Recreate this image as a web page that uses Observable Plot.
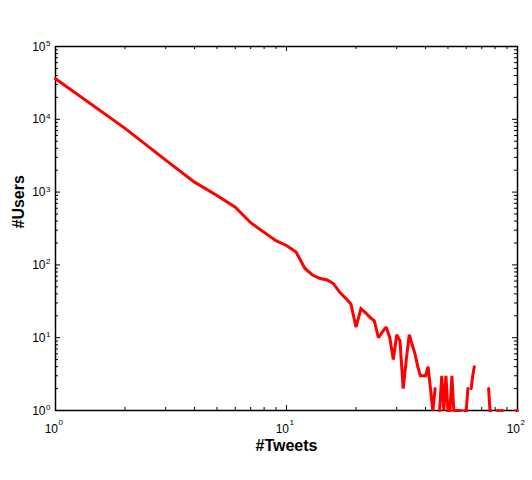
<!DOCTYPE html>
<html>
<head>
<meta charset="utf-8">
<script src="https://cdn.jsdelivr.net/npm/d3@7"></script>
<script src="https://cdn.jsdelivr.net/npm/@observablehq/plot@0.6"></script>
<style>
  html, body { margin: 0; padding: 0; background: #fff; }
</style>
</head>
<body>
<div id="chart"></div>
<script>
// #Users for #Tweets = 1..100 (0 = no users, drawn as a gap)
const users = [
  36000, 7500, 2750, 1370, 900, 620, 380, 280, 215, 185,
  150, 90, 72, 65, 62, 55, 42, 35, 29, 14,
  25, 22, 19, 17, 10, 12, 14, 10, 5, 11,
  9, 2, 5, 11, 8, 6, 4, 3, 3, 3,
  4, 2, 1, 2, 0, 1, 3, 1, 3, 1,
  1, 3, 1, 1, 1, 1, 1, 0, 1, 1,
  2, 0, 2, 3, 4, 0, 0, 0, 0, 0,
  0, 0, 0, 0, 2, 1, 1, 0, 0, 0,
  0, 1, 1, 0, 1, 1, 0, 0, 0, 0,
  0, 0, 0, 0, 0, 0, 0, 0, 1, 1
];
const tweets = users.map((_, i) => i + 1);

const xMajor = [1, 10, 100];
const xMinor = [2, 3, 4, 5, 6, 7, 8, 9, 20, 30, 40, 50, 60, 70, 80, 90];
const yMajor = [1, 10, 100, 1000, 10000, 100000];
const yMinor = [
  2, 3, 4, 5, 6, 7, 8, 9,
  20, 30, 40, 50, 60, 70, 80, 90,
  200, 300, 400, 500, 600, 700, 800, 900,
  2000, 3000, 4000, 5000, 6000, 7000, 8000, 9000,
  20000, 30000, 40000, 50000, 60000, 70000, 80000, 90000
];
const xLabel = "#Tweets";
const yLabel = "#Users";

const data = tweets.map((t, i) => ({ t, u: users[i] > 0 ? users[i] : NaN }));

const W = 532, H = 480;
const mL = 55, mR = 15, mT = 46, mB = 70;
const innerH = H - mT - mB, innerW = W - mL - mR;
const font = "Liberation Sans, Arial, Helvetica, sans-serif";
const expOf = d => String(Math.round(Math.log10(d)));

const chart = Plot.plot({
  width: W, height: H,
  marginLeft: mL, marginRight: mR, marginTop: mT, marginBottom: mB,
  style: { fontFamily: font, background: "#fff", color: "#000" },
  x: { type: "log", domain: [1, 100], axis: null },
  y: { type: "log", domain: [1, 100000], axis: null },
  marks: [
    // inward ticks, bottom & top
    Plot.tickX(xMajor, { x: d => d, insetTop: innerH - 5, stroke: "black", strokeWidth: 1 }),
    Plot.tickX(xMinor, { x: d => d, insetTop: innerH - 3, stroke: "black", strokeWidth: 1 }),
    Plot.tickX(xMajor, { x: d => d, insetBottom: innerH - 5, stroke: "black", strokeWidth: 1 }),
    Plot.tickX(xMinor, { x: d => d, insetBottom: innerH - 3, stroke: "black", strokeWidth: 1 }),
    // inward ticks, left & right
    Plot.tickY(yMajor, { y: d => d, insetRight: innerW - 5, stroke: "black", strokeWidth: 1 }),
    Plot.tickY(yMinor, { y: d => d, insetRight: innerW - 3, stroke: "black", strokeWidth: 1 }),
    Plot.tickY(yMajor, { y: d => d, insetLeft: innerW - 5, stroke: "black", strokeWidth: 1 }),
    Plot.tickY(yMinor, { y: d => d, insetLeft: innerW - 3, stroke: "black", strokeWidth: 1 }),
    Plot.frame({ stroke: "black", strokeWidth: 1.5 }),
    // data line
    Plot.line(data, { x: "t", y: "u", stroke: "#ff0000", strokeWidth: 3, strokeLinejoin: "miter", strokeMiterlimit: 2 }),
    // y tick labels 10^k
    Plot.text(yMajor, { y: d => d, frameAnchor: "left", text: () => "10", textAnchor: "end", lineAnchor: "bottom", dx: -10, dy: 4, fontSize: 12, fill: "black" }),
    Plot.text(yMajor, { y: d => d, frameAnchor: "left", text: expOf, textAnchor: "start", lineAnchor: "bottom", dx: -9.5, dy: -0.5, fontSize: 8, fill: "black" }),
    // x tick labels 10^k
    Plot.text(xMajor, { x: d => d, frameAnchor: "bottom", text: () => "10", textAnchor: "end", lineAnchor: "bottom", dx: 2.5, dy: 22, fontSize: 12, fill: "black" }),
    Plot.text(xMajor, { x: d => d, frameAnchor: "bottom", text: expOf, textAnchor: "start", lineAnchor: "bottom", dx: 3, dy: 14, fontSize: 8, fill: "black" }),
    // axis titles
    Plot.text([xLabel], { frameAnchor: "bottom", text: d => d, lineAnchor: "bottom", dy: 40, fontSize: 16, fontWeight: "bold", fill: "black" }),
    Plot.text([yLabel], { frameAnchor: "left", text: d => d, rotate: -90, lineAnchor: "bottom", dx: -31.5, fontSize: 16, fontWeight: "bold", fill: "black" })
  ]
});
document.getElementById("chart").appendChild(chart);
</script>
</body>
</html>
